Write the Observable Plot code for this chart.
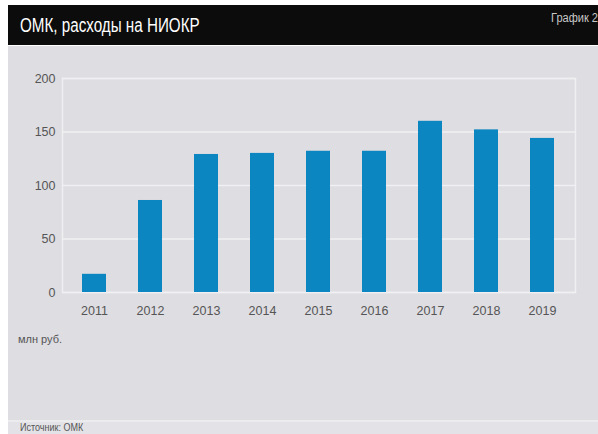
<!DOCTYPE html>
<html>
<head>
<meta charset="utf-8">
<script src="https://cdn.jsdelivr.net/npm/d3@7"></script>
<script src="https://cdn.jsdelivr.net/npm/@observablehq/plot@0.6"></script>
<style>
  html, body { margin: 0; padding: 0; background: #ffffff; }
  #page { position: relative; width: 598px; height: 434px; overflow: hidden; background: #fff; font-family: "Liberation Sans", Arial, sans-serif; }
  #header { position: absolute; left: 8px; top: 5px; width: 590px; height: 40px; background: #0c0c0c; }
  #title { position: absolute; left: 12px; top: 9px; color: #fff; font-family: "Liberation Sans", Arial, sans-serif; font-size: 20px; line-height: 22px; white-space: nowrap; transform: scaleX(0.76); transform-origin: 0 50%; }
  #label { position: absolute; right: 0px; top: 6px; color: #c8c8c8; font-family: "Liberation Sans", Arial, sans-serif; font-size: 12px; line-height: 14px; white-space: nowrap; transform: scaleX(0.92); transform-origin: 100% 50%; }
  #panel { position: absolute; left: 8px; top: 46px; width: 590px; height: 374px; background: #dedde2; }
  #chart { position: absolute; left: 0; top: 0; }
  #unit { position: absolute; left: 10px; top: 287px; color: #555; font-family: "Liberation Sans", Arial, sans-serif; font-size: 11px; line-height: 13px; white-space: nowrap; }
  #sep { position: absolute; left: 8px; top: 420px; width: 590px; height: 2px; background: #ececef; }
  #footer { position: absolute; left: 8px; top: 422px; width: 590px; height: 12px; background: #e3e2e7; }
  #source { position: absolute; left: 12px; top: 0px; color: #555; font-family: "Liberation Sans", Arial, sans-serif; font-size: 10px; line-height: 11px; white-space: nowrap; transform: scaleX(0.9); transform-origin: 0 50%; }
</style>
</head>
<body>
<div id="page">
  <div id="header"><div id="title">ОМК, расходы на НИОКР</div><div id="label">График 2</div></div>
  <div id="panel"><div id="chart"></div><div id="unit">млн руб.</div></div>
  <div id="sep"></div>
  <div id="footer"><div id="source">Источник: ОМК</div></div>
</div>
<script>
const years = ["2011", "2012", "2013", "2014", "2015", "2016", "2017", "2018", "2019"];
const values = [17, 86, 129, 130, 132, 132, 160, 152, 144];
const yTicks = [0, 50, 100, 150, 200];

const data = years.map((y, i) => ({year: y, value: values[i]}));

const chart = Plot.plot({
  width: 590,
  height: 290,
  marginTop: 32,
  marginBottom: 44,
  marginLeft: 54,
  marginRight: 23,
  style: {background: "transparent", color: "#555", fontFamily: "Liberation Sans, Arial, sans-serif", fontSize: "12px"},
  x: {type: "band", domain: years, paddingInner: 0.565, paddingOuter: 0.34, label: null},
  y: {domain: [0, 200], label: null},
  marks: [
    Plot.gridY(yTicks, {stroke: "#f0f0f2", strokeOpacity: 1, strokeWidth: 1.5}),
    Plot.frame({stroke: "#f0f0f2", strokeWidth: 1.5}),
    Plot.barY(data, {x: "year", y: "value", fill: "#0b86c1"}),
    Plot.axisY(yTicks, {tickSize: 0, tickPadding: 7, fontSize: 12.5, label: null}),
    Plot.axisX({tickSize: 0, tickPadding: 14, fontSize: 12.5, label: null})
  ]
});
document.getElementById("chart").appendChild(chart);
</script>
</body>
</html>
